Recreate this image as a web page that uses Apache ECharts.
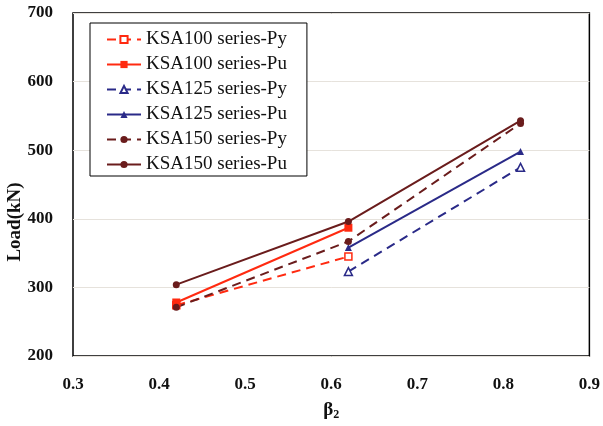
<!DOCTYPE html>
<html><head><meta charset="utf-8">
<script src="https://cdn.jsdelivr.net/npm/echarts@6/dist/echarts.min.js"></script>
<style>html,body{margin:0;padding:0;background:#fff}#c{width:603px;height:426px}</style>
</head><body><div id="c"></div>
<script>
const seriesNames = ['KSA100 series-Py','KSA100 series-Pu','KSA125 series-Py','KSA125 series-Pu','KSA150 series-Py','KSA150 series-Pu'];
const ksa100Py = [[0.42, 274], [0.62, 345]];
const ksa100Pu = [[0.42, 278], [0.62, 387]];
const ksa125Py = [[0.62, 323], [0.82, 475]];
const ksa125Pu = [[0.62, 358], [0.82, 498]];
const ksa150Py = [[0.42, 271], [0.62, 367], [0.82, 539]];
const ksa150Pu = [[0.42, 304], [0.62, 396], [0.82, 543]];
const xTicks = [0.3, 0.4, 0.5, 0.6, 0.7, 0.8, 0.9];
const yTicks = [200, 300, 400, 500, 600, 700];

const RED = '#ff2a10', NAVY = '#2a2a88', MAROON = '#6a1c1c';
const serif = '"Liberation Serif", "Times New Roman", serif';
function mk(name, data, color, dashed, symbol, open, size) {
  return {
    name, type: 'line', data,
    symbol, symbolSize: size, showSymbol: true,
    lineStyle: { color, width: 2, type: dashed ? [9, 6] : 'solid' },
    itemStyle: { color: open ? '#fff' : color, borderColor: color, borderWidth: open ? 1.5 : 0 },
    emphasis: { disabled: true }, animation: false
  };
}
const chart = echarts.init(document.getElementById('c'), null, { renderer: 'canvas' });
chart.setOption({
  animation: false,
  backgroundColor: '#fff',
  grid: { left: 73, right: 9, top: 13, bottom: 68, show: true, borderColor: '#000', borderWidth: 1.5, backgroundColor: 'transparent' },
  xAxis: {
    type: 'value', min: xTicks[0], max: xTicks[xTicks.length - 1], interval: 0.1,
    axisLine: { show: false }, axisTick: { show: false }, splitLine: { show: false },
    axisLabel: { margin: 20, fontFamily: serif, fontWeight: 'bold', fontSize: 17, color: '#111', formatter: v => v.toFixed(1) },
    name: '{b|β}{s|2}', nameLocation: 'middle', nameGap: 44,
    nameTextStyle: { rich: { b: { fontFamily: serif, fontWeight: 'bold', fontSize: 19, color: '#111' }, s: { fontFamily: serif, fontWeight: 'bold', fontSize: 12, color: '#111', verticalAlign: 'bottom', padding: [9, 0, 0, 0] } } }
  },
  yAxis: {
    type: 'value', min: yTicks[0], max: yTicks[yTicks.length - 1], interval: 100,
    axisLine: { show: false }, axisTick: { show: false },
    splitLine: { show: true, lineStyle: { color: '#e6e2dc', width: 1 } },
    axisLabel: { margin: 20, fontFamily: serif, fontWeight: 'bold', fontSize: 17, color: '#111' }
  },
  graphic: [{
    type: 'text', x: 15, y: 222, rotation: Math.PI / 2, origin: [0, 0],
    style: { text: 'Load(kN)', font: 'bold 19px ' + serif, fill: '#111', align: 'center', verticalAlign: 'middle' }
  }],
  legend: {
    orient: 'vertical', left: 90, top: 23,
    padding: [7, 20, 2, 16], itemGap: 6, itemWidth: 34, itemHeight: 9,
    borderColor: '#000', borderWidth: 1, backgroundColor: '#fff',
    textStyle: { fontFamily: serif, fontSize: 19, color: '#111', lineHeight: 19 },
    data: seriesNames
  },
  series: [
    mk(seriesNames[0], ksa100Py, RED, true, 'rect', true, 7),
    mk(seriesNames[1], ksa100Pu, RED, false, 'rect', false, 8),
    mk(seriesNames[2], ksa125Py, NAVY, true, 'triangle', true, 8),
    mk(seriesNames[3], ksa125Pu, NAVY, false, 'triangle', false, 7),
    mk(seriesNames[4], ksa150Py, MAROON, true, 'circle', false, 7),
    mk(seriesNames[5], ksa150Pu, MAROON, false, 'circle', false, 7)
  ]
});
</script></body></html>
